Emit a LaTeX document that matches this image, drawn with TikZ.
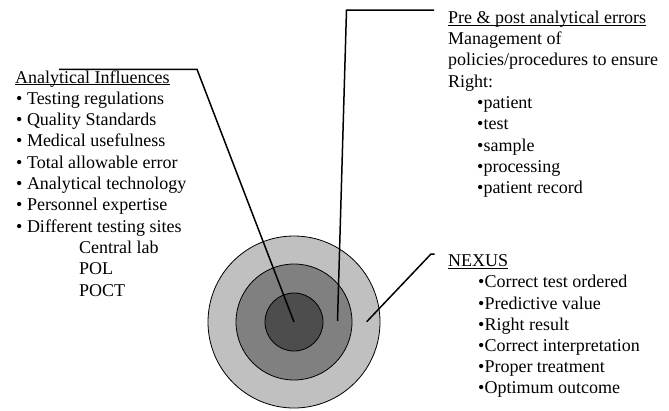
\documentclass[tikz,border=0pt]{standalone}
\usepackage{fontspec}
\setmainfont{Liberation Serif}
\definecolor{ringlight}{HTML}{C0C0C0}
\definecolor{ringmid}{HTML}{808080}
\definecolor{ringdark}{HTML}{4D4D4D}
\begin{document}
\begin{tikzpicture}[x=1pt,y=-1pt,
  txt/.style={anchor=base west, inner sep=0pt, font=\fontsize{18}{21.3}\selectfont},
  conn/.style={line width=1.5pt, line join=miter},
  ring/.style={circle, draw=black, line width=0.8pt, inner sep=0pt},
  uline/.style={line width=0.9pt}]
\useasboundingbox (0,0) rectangle (669,410);
% rings
\node[ring, fill=ringlight, minimum size=172pt] (outer) at (294,322) {};
\node[ring, fill=ringmid, minimum size=116pt] (middle) at (294,322) {};
\node[ring, fill=ringdark, minimum size=58pt] (inner) at (294,322) {};
% left block
\node[txt] (ai) at (15,83) {Analytical Influences};
\draw[uline] ([yshift=-1.8pt]ai.base west) -- ([yshift=-1.8pt]ai.base east);
\node[txt] (ai1) at (16,104.3) {• Testing regulations};
\node[txt] (ai2) at (16,125.6) {• Quality Standards};
\node[txt] (ai3) at (16,146.9) {• Medical usefulness};
\node[txt] (ai4) at (16,168.2) {• Total allowable error};
\node[txt] (ai5) at (16,189.5) {• Analytical technology};
\node[txt] (ai6) at (16,210.8) {• Personnel expertise};
\node[txt] (ai7) at (16,232.1) {• Different testing sites};
\node[txt] (ai8) at (79,253.4) {Central lab};
\node[txt] (ai9) at (79,274.7) {POL};
\node[txt] (ai10) at (79,296) {POCT};
% upper right block
\node[txt] (pp) at (448,23.3) {Pre \& post analytical errors};
\draw[uline] ([yshift=-1.8pt]pp.base west) -- ([yshift=-1.8pt]pp.base east);
\node[txt] (pp1) at (448,44.6) {Management of};
\node[txt] (pp2) at (448,65.9) {policies/procedures to ensure};
\node[txt] (pp3) at (448,87.2) {Right:};
\node[txt] (pp4) at (477,108.5) {•patient};
\node[txt] (pp5) at (477,129.8) {•test};
\node[txt] (pp6) at (477,151.1) {•sample};
\node[txt] (pp7) at (477,172.4) {•processing};
\node[txt] (pp8) at (477,193.7) {•patient record};
% lower right block
\node[txt] (nx) at (448,266.6) {NEXUS};
\draw[uline] ([yshift=-1.8pt]nx.base west) -- ([yshift=-1.8pt]nx.base east);
\node[txt] (nx1) at (478,287.9) {•Correct test ordered};
\node[txt] (nx2) at (478,309.1) {•Predictive value};
\node[txt] (nx3) at (478,330.3) {•Right result};
\node[txt] (nx4) at (478,351.5) {•Correct interpretation};
\node[txt] (nx5) at (478,372.7) {•Proper treatment};
\node[txt] (nx6) at (478,393.9) {•Optimum outcome};
% connectors
\coordinate (aistart) at (59,69.3);
\coordinate (aibend) at (197,69.3);
\draw[conn] (aistart) -- (aibend) -- (inner.center);
\coordinate (ppstart) at (434,10);
\coordinate (ppbend) at (346.5,10);
\coordinate (ppend) at (337.5,321);
\draw[conn] (ppstart) -- (ppbend) -- (ppend);
\coordinate (nxstart) at (434.5,254);
\coordinate (nxbend) at (431,254);
\coordinate (nxend) at (366.7,321.7);
\draw[conn] (nxstart) -- (nxbend) -- (nxend);
\end{tikzpicture}
\end{document}
